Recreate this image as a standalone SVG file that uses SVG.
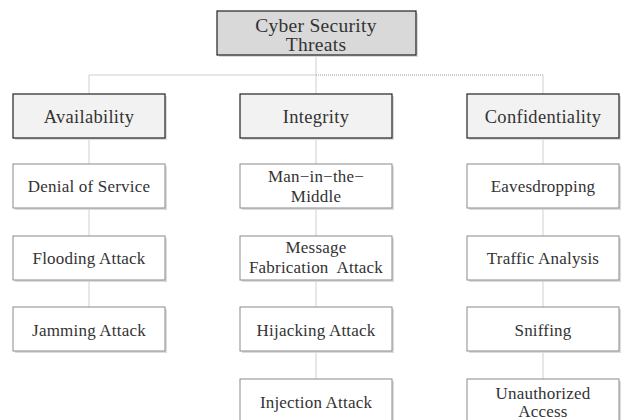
<svg xmlns="http://www.w3.org/2000/svg" width="621" height="420" viewBox="0 0 621 420">
  <defs>
    <style>
      .shadow { fill: #dcdcdc; }
      .root { fill: #d9d9d9; stroke: #222; stroke-width: 1.2; }
      .cat { fill: #f2f2f2; stroke: #222; stroke-width: 1.2; }
      .item { fill: #ffffff; stroke: #8a8a8a; stroke-width: 1; }
      .link { stroke: #cfcfcf; stroke-width: 1; fill: none; }
      .dotted { stroke: #9a9a9a; stroke-width: 1; stroke-dasharray: 1 1; fill: none; }
      text { font-family: "Liberation Serif", "DejaVu Serif", serif; fill: #333333; text-anchor: middle; white-space: pre; }
      .top { font-size: 19.5px; letter-spacing: 0.3px; }
      .big { font-size: 18.5px; letter-spacing: 0.3px; }
      .small { font-size: 17px; letter-spacing: 0.2px; }
    </style>
  </defs>
  <rect width="621" height="420" fill="#ffffff"/>

  <!-- connectors -->
  <g id="connectors">
    <line class="link" x1="316" y1="55" x2="316" y2="75"/>
    <line class="link" x1="89" y1="75" x2="316" y2="75"/>
    <line class="dotted" x1="316" y1="75" x2="543" y2="75"/>
    <line class="link" x1="89" y1="75" x2="89" y2="94"/>
    <line class="link" x1="316" y1="75" x2="316" y2="94"/>
    <line class="link" x1="543" y1="75" x2="543" y2="94"/>
    <!-- column stems -->
    <line class="link" x1="89" y1="138" x2="89" y2="164"/>
    <line class="link" x1="89" y1="208" x2="89" y2="236"/>
    <line class="link" x1="89" y1="280" x2="89" y2="307"/>
    <line class="link" x1="316" y1="138" x2="316" y2="164"/>
    <line class="link" x1="316" y1="208" x2="316" y2="236"/>
    <line class="link" x1="316" y1="280" x2="316" y2="307"/>
    <line class="link" x1="316" y1="351" x2="316" y2="379"/>
    <line class="link" x1="543" y1="138" x2="543" y2="164"/>
    <line class="link" x1="543" y1="208" x2="543" y2="236"/>
    <line class="link" x1="543" y1="280" x2="543" y2="307"/>
    <line class="link" x1="543" y1="351" x2="543" y2="379"/>
  </g>

  <!-- root -->
  <g id="root">
    <rect class="shadow" x="219" y="13" width="199" height="44"/>
    <rect class="root" x="217" y="11" width="199" height="44"/>
    <text class="top" x="316" y="32">Cyber Security</text>
    <text class="top" x="316" y="51">Threats</text>
  </g>

  <!-- Availability column -->
  <g id="availability">
    <rect class="shadow" x="15" y="96" width="152" height="44"/>
    <rect class="cat" x="13" y="94" width="152" height="44"/>
    <text class="big" x="89" y="123">Availability</text>
  </g>
  <g id="dos">
    <rect class="shadow" x="15" y="166" width="152" height="44"/>
    <rect class="item" x="13" y="164" width="152" height="44"/>
    <text class="small" x="89" y="192">Denial of Service</text>
  </g>
  <g id="flooding">
    <rect class="shadow" x="15" y="238" width="152" height="44"/>
    <rect class="item" x="13" y="236" width="152" height="44"/>
    <text class="small" x="89" y="264">Flooding Attack</text>
  </g>
  <g id="jamming">
    <rect class="shadow" x="15" y="309" width="152" height="44"/>
    <rect class="item" x="13" y="307" width="152" height="44"/>
    <text class="small" x="89" y="336">Jamming Attack</text>
  </g>

  <!-- Integrity column -->
  <g id="integrity">
    <rect class="shadow" x="242" y="96" width="152" height="44"/>
    <rect class="cat" x="240" y="94" width="152" height="44"/>
    <text class="big" x="316" y="123">Integrity</text>
  </g>
  <g id="mitm">
    <rect class="shadow" x="242" y="166" width="152" height="44"/>
    <rect class="item" x="240" y="164" width="152" height="44"/>
    <text class="small" x="316" y="182">Man−in−the−</text>
    <text class="small" x="316" y="202">Middle</text>
  </g>
  <g id="fabrication">
    <rect class="shadow" x="242" y="238" width="152" height="44"/>
    <rect class="item" x="240" y="236" width="152" height="44"/>
    <text class="small" x="316" y="253">Message</text>
    <text class="small" x="316" y="273">Fabrication  Attack</text>
  </g>
  <g id="hijacking">
    <rect class="shadow" x="242" y="309" width="152" height="44"/>
    <rect class="item" x="240" y="307" width="152" height="44"/>
    <text class="small" x="316" y="336">Hijacking Attack</text>
  </g>
  <g id="injection">
    <rect class="shadow" x="242" y="381" width="152" height="44"/>
    <rect class="item" x="240" y="379" width="152" height="44"/>
    <text class="small" x="316" y="408">Injection Attack</text>
  </g>

  <!-- Confidentiality column -->
  <g id="confidentiality">
    <rect class="shadow" x="469" y="96" width="152" height="44"/>
    <rect class="cat" x="467" y="94" width="152" height="44"/>
    <text class="big" x="543" y="123">Confidentiality</text>
  </g>
  <g id="eavesdropping">
    <rect class="shadow" x="469" y="166" width="152" height="44"/>
    <rect class="item" x="467" y="164" width="152" height="44"/>
    <text class="small" x="543" y="192">Eavesdropping</text>
  </g>
  <g id="traffic">
    <rect class="shadow" x="469" y="238" width="152" height="44"/>
    <rect class="item" x="467" y="236" width="152" height="44"/>
    <text class="small" x="543" y="264">Traffic Analysis</text>
  </g>
  <g id="sniffing">
    <rect class="shadow" x="469" y="309" width="152" height="44"/>
    <rect class="item" x="467" y="307" width="152" height="44"/>
    <text class="small" x="543" y="336">Sniffing</text>
  </g>
  <g id="unauthorized">
    <rect class="shadow" x="469" y="381" width="152" height="44"/>
    <rect class="item" x="467" y="379" width="152" height="44"/>
    <text class="small" x="543" y="399">Unauthorized</text>
    <text class="small" x="543" y="417">Access</text>
  </g>
</svg>
